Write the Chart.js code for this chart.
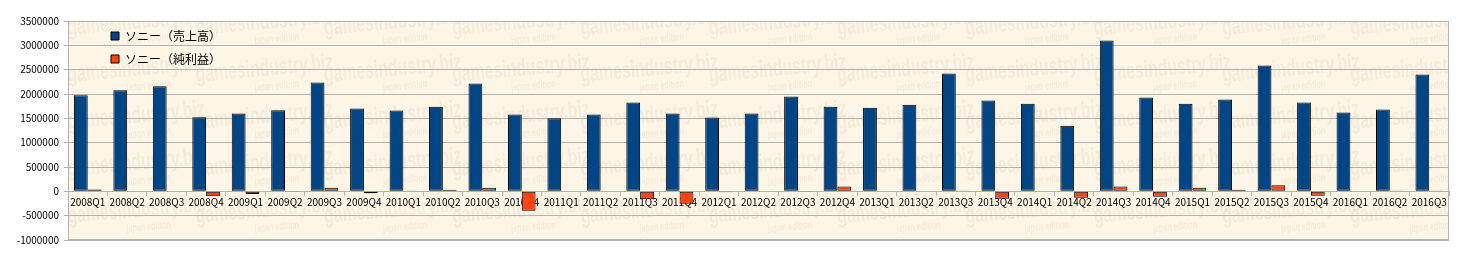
<!DOCTYPE html>
<html>
<head>
<meta charset="utf-8">
<script src="https://cdn.jsdelivr.net/npm/chart.js@4"></script>
<style>
  html, body { margin: 0; padding: 0; background: #fff; }
  #wrap { width: 1457px; height: 255px; }
</style>
</head>
<body>
<div id="wrap"><canvas id="myChart" width="1457" height="255"></canvas></div>
<script>
const quarters = [
  "2008Q1", "2008Q2", "2008Q3", "2008Q4",
  "2009Q1", "2009Q2", "2009Q3", "2009Q4",
  "2010Q1", "2010Q2", "2010Q3", "2010Q4",
  "2011Q1", "2011Q2", "2011Q3", "2011Q4",
  "2012Q1", "2012Q2", "2012Q3", "2012Q4",
  "2013Q1", "2013Q2", "2013Q3", "2013Q4",
  "2014Q1", "2014Q2", "2014Q3", "2014Q4",
  "2015Q1", "2015Q2", "2015Q3", "2015Q4",
  "2016Q1", "2016Q2", "2016Q3"
];

// 売上高 (sales)
const sales = [
  1975000, 2078000, 2160000, 1520000,
  1600000, 1665000, 2235000, 1700000,
  1660000, 1740000, 2215000, 1580000,
  1500000, 1580000, 1825000, 1600000,
  1515000, 1600000, 1950000, 1740000,
  1720000, 1780000, 2420000, 1865000,
  1800000, 1350000, 3100000, 1930000,
  1800000, 1885000, 2585000, 1825000,
  1620000, 1680000, 2400000
];

// 純利益 (net profit)
const profit = [
  40000, 12000, 10000, -100000,
  -55000, -15000, 75000, -40000,
  15000, 35000, 75000, -400000,
  -10000, -10000, -165000, -255000,
  -20000, -10000, -15000, 100000,
  10000, -10000, 5000, -150000,
  10000, -130000, 100000, -110000,
  75000, 35000, 125000, -90000,
  10000, 5000, 5000
];

const seriesNames = ["ソニー（売上高）", "ソニー（純利益）"];
const yTicks = [-1000000, -500000, 0, 500000, 1000000, 1500000, 2000000, 2500000, 3000000, 3500000];

const plotBg = {
  id: "plotBg",
  beforeDraw(chart) {
    const { ctx, chartArea: a } = chart;
    ctx.save();
    ctx.fillStyle = "#fdf5e6";
    ctx.fillRect(a.left, a.top, a.right - a.left, a.bottom - a.top);

    // faint watermark
    ctx.beginPath();
    ctx.rect(a.left, a.top, a.right - a.left, a.bottom - a.top);
    ctx.clip();
    ctx.fillStyle = "rgba(190, 165, 130, 0.12)";
    for (let y = a.top - 14; y < a.bottom + 40; y += 47) {
      for (let x = a.left; x < a.right; x += 128.3) {
        ctx.save();
        ctx.translate(x, y + 28);
        ctx.rotate(-0.09);
        ctx.scale(0.72, 1.1);
        ctx.font = "bold 22px 'Liberation Sans', sans-serif";
        ctx.fillText("gamesindustry.biz", 0, 0);
        ctx.font = "bold 10px 'Liberation Sans', sans-serif";
        ctx.fillText("japan edition", 80, 13);
        ctx.restore();
      }
    }
    ctx.restore();
  },
  afterDraw(chart) {
    const { ctx, chartArea: a } = chart;
    ctx.save();
    ctx.strokeStyle = "#b3b3b3";
    ctx.lineWidth = 1;
    ctx.strokeRect(a.left + 0.5, a.top + 0.5, a.right - a.left - 1, a.bottom - a.top - 1);
    ctx.restore();
  }
};

// move the legend into the upper left of the plot
const legendSpot = {
  id: "legendSpot",
  afterLayout(chart) {
    chart.legend.left += 32;
    chart.legend.top += 19;
  }
};

document.addEventListener("DOMContentLoaded", () => {
  const ctx = document.getElementById("myChart");

  new Chart(ctx, {
    type: "bar",
    data: {
      labels: quarters,
      datasets: [{
        label: seriesNames[0],
        data: sales,
        backgroundColor: "#004586",
        borderColor: "#000000",
        borderWidth: 1,
        borderSkipped: false
      }, {
        label: seriesNames[1],
        data: profit,
        backgroundColor: "#ff420e",
        borderColor: "#000000",
        borderWidth: 1,
        borderSkipped: false
      }]
    },
    plugins: [plotBg, legendSpot],
    options: {
      responsive: false,
      animation: false,
      layout: { padding: { left: 8, right: 8, top: 21, bottom: 15 } },
      datasets: {
        bar: { categoryPercentage: 0.7, barPercentage: 1.0 }
      },
      plugins: {
        legend: {
          position: "chartArea",
          align: "start",
          labels: {
            boxWidth: 8,
            boxHeight: 8,
            padding: 11,
            color: "#000",
            font: { family: "'Noto Sans CJK JP', sans-serif", size: 12 }
          }
        },
        tooltip: { enabled: false }
      },
      scales: {
        x: {
          position: { y: 0 },
          offset: true,
          grid: {
            display: true,
            drawOnChartArea: false,
            drawTicks: true,
            tickLength: 4,
            color: "#b3b3b3",
            offset: true
          },
          border: { display: true, color: "#b3b3b3" },
          ticks: {
            color: "#000",
            autoSkip: false,
            maxRotation: 0,
            padding: 1,
            font: { family: "'Noto Sans CJK JP', sans-serif", size: 10 }
          },
          afterFit(scale) { scale.height = 0; }
        },
        y: {
          min: -1000000,
          max: 3500000,
          afterBuildTicks(scale) {
            scale.ticks = yTicks.map((v) => ({ value: v }));
          },
          grid: { color: "#b3b3b3", tickLength: 4 },
          border: { display: true, color: "#b3b3b3" },
          ticks: {
            color: "#000",
            padding: 5,
            callback: (v) => String(v),
            font: { family: "'Noto Sans CJK JP', sans-serif", size: 10 }
          },
          afterFit(scale) {
            scale.width = 60;
            scale.paddingTop = 0;
            scale.paddingBottom = 0;
          }
        }
      }
    }
  });
});
</script>
</body>
</html>
